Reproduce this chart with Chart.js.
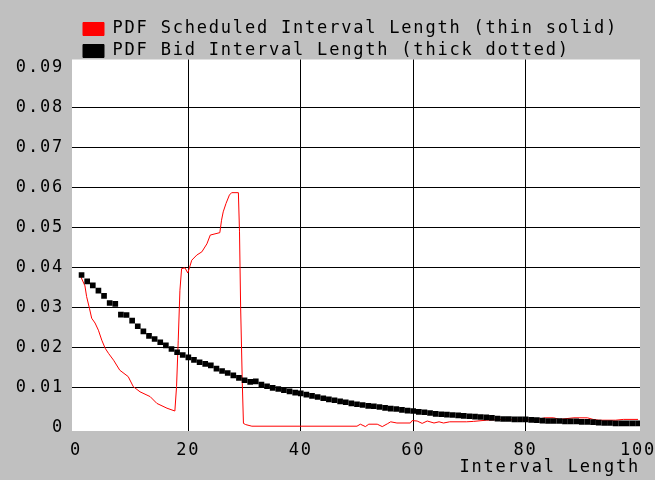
<!DOCTYPE html>
<html>
<head>
<meta charset="utf-8">
<script src="https://cdn.jsdelivr.net/npm/chart.js@4.4.1/dist/chart.umd.min.js"></script>
<style>
  html, body { margin:0; padding:0; background:#c0c0c0; }
</style>
</head>
<body>
<canvas id="pdf_chart" width="655" height="480"></canvas>
<script>
// scheduled interval length pdf (thin red line)
const schedX = [0.8, 1.6, 1.9, 2.4, 2.8, 3.4, 4.0, 4.6, 5.2, 5.8, 6.7, 7.8, 9.3, 10.2, 11.4, 13.2, 14.4, 16.2, 17.6,
  17.9, 18.2, 18.5, 18.8, 19.4, 19.9, 20.3, 20.6, 21.5, 22.4, 23.3, 23.9, 25.6, 25.9, 26.2, 26.7, 27.3,
  27.7, 28.9, 29.1, 29.3, 29.6, 29.8, 30.2, 31.3, 50, 50.6, 51.5, 52.1, 53.6, 54.5, 55.4, 56, 57.1,
  59.5, 59.8, 60.7, 61.6, 62.5, 63.7, 64.6, 65.4, 66.5, 69.5, 70.7, 73, 76, 79, 82, 83.5, 85, 86,
  88.6, 91, 92, 93, 96, 97.4, 100];
const schedY = [0.0380, 0.0355, 0.0328, 0.0299, 0.0274, 0.0262, 0.0244, 0.0219, 0.0199, 0.0186, 0.0169,
  0.0144, 0.0128, 0.0103, 0.0090, 0.0078, 0.0061, 0.0049, 0.0042,
  0.0103, 0.0219, 0.0344, 0.0398, 0.0400, 0.0387, 0.0405, 0.0419, 0.0432, 0.0440, 0.0460, 0.0482,
  0.0488, 0.0519, 0.0540, 0.0561, 0.0582,
  0.0588, 0.0588, 0.0490, 0.0302, 0.0110, 0.0011, 0.0008, 0.0004, 0.0004, 0.0009, 0.0003, 0.0009,
  0.0009, 0.0003, 0.0010, 0.0015, 0.0012,
  0.0012, 0.0018, 0.0017, 0.0011, 0.0017, 0.0012, 0.0015, 0.0012, 0.0015, 0.0015, 0.0016, 0.0019,
  0.0021, 0.0019, 0.0021, 0.0025, 0.0025, 0.0021,
  0.0025, 0.0025, 0.0021, 0.0019, 0.0019, 0.0021, 0.0021];

// bid interval length pdf (thick dotted black)
const bidX = [1, 2, 3, 4, 5, 6, 7, 8, 9, 10, 11, 12, 13, 14, 15, 16, 17, 18, 19, 20,
  21, 22, 23, 24, 25, 26, 27, 28, 29, 30, 31, 32, 33, 34, 35, 36, 37, 38, 39, 40,
  41, 42, 43, 44, 45, 46, 47, 48, 49, 50, 51, 52, 53, 54, 55, 56, 57, 58, 59, 60,
  61, 62, 63, 64, 65, 66, 67, 68, 69, 70, 71, 72, 73, 74, 75, 76, 77, 78, 79, 80,
  81, 82, 83, 84, 85, 86, 87, 88, 89, 90, 91, 92, 93, 94, 95, 96, 97, 98, 99, 100];
const bidY = [0.0382, 0.0366, 0.0356, 0.0343, 0.0330, 0.0312, 0.0310, 0.0283, 0.0282, 0.0268,
  0.0254, 0.0241, 0.0230, 0.0222, 0.0214, 0.0206, 0.0197, 0.0189, 0.0182, 0.0176,
  0.0170, 0.0164, 0.0160, 0.0156, 0.0148, 0.0142, 0.0137, 0.0131, 0.0125, 0.0119,
  0.0115, 0.0116, 0.0108, 0.0104, 0.0100, 0.0097, 0.0094, 0.0091, 0.0088, 0.0086,
  0.0083, 0.0080, 0.0077, 0.0074, 0.0071, 0.0069, 0.0066, 0.0064, 0.0061, 0.0059,
  0.0057, 0.0055, 0.0054, 0.0052, 0.0050, 0.0048, 0.0047, 0.0045, 0.0043, 0.0042,
  0.0040, 0.0039, 0.0037, 0.0035, 0.0034, 0.0033, 0.0032, 0.0031, 0.0030, 0.0029,
  0.0028, 0.0027, 0.0026, 0.0025, 0.0023, 0.0022, 0.0022, 0.0021, 0.0021, 0.0021,
  0.0020, 0.0019, 0.0018, 0.0017, 0.0017, 0.0017, 0.0016, 0.0016, 0.0016, 0.0015,
  0.0015, 0.0014, 0.0013, 0.0012, 0.0012, 0.0011, 0.0011, 0.0011, 0.0011, 0.0011];

const xTicks = [0, 20, 40, 60, 80, 100];
const yTicks = [0, 0.01, 0.02, 0.03, 0.04, 0.05, 0.06, 0.07, 0.08, 0.09];
const yTickLabels = ['0', '0.01', '0.02', '0.03', '0.04', '0.05', '0.06', '0.07', '0.08', '0.09'];

const LETTER_GAP = '1.8px';
const FONT = {family: '"DejaVu Sans Mono", monospace', size: 17};

const backdrop = {
  id: 'backdrop',
  beforeUpdate: (chart) => { chart.ctx.letterSpacing = LETTER_GAP; },
  afterLayout: (chart) => {
    // legend sits left, a bit lower than chart.js puts it
    chart.legend.left = 78;
    chart.legend.top += 10;
  },
  beforeDraw: (chart) => {
    const {ctx, chartArea: a} = chart;
    ctx.letterSpacing = LETTER_GAP;
    ctx.save();
    ctx.fillStyle = '#c0c0c0';
    ctx.fillRect(0, 0, chart.width, chart.height);
    ctx.fillStyle = '#ffffff';
    ctx.fillRect(a.left, a.top, a.right - a.left, a.bottom - a.top);
    ctx.restore();
  }
};

const gridColor = (hidden) => (c) => (c.tick && hidden.includes(c.tick.value)) ? 'rgba(0,0,0,0)' : '#000';

new Chart(document.getElementById('pdf_chart'), {
  type: 'line',
  data: {
    datasets: [
      {
        label: 'PDF Scheduled Interval Length (thin solid)',
        data: schedX.map((x, i) => ({x: x, y: schedY[i]})),
        borderColor: '#ff0000',
        backgroundColor: '#ff0000',
        borderWidth: 1,
        pointRadius: 0,
        tension: 0,
        order: 1,
      },
      {
        label: 'PDF Bid Interval Length (thick dotted)',
        data: bidX.map((x, i) => ({x: x, y: bidY[i]})),
        borderColor: '#000',
        backgroundColor: '#000',
        borderWidth: 1,
        showLine: false,
        pointStyle: 'rect',
        pointRadius: 4,
        pointBorderWidth: 0,
        pointBackgroundColor: '#000',
        order: 0,
      },
    ]
  },
  options: {
    responsive: false,
    animation: false,
    layout: {autoPadding: false, padding: {left: 0, right: 15, top: 5.5, bottom: 0}},
    plugins: {
      tooltip: {enabled: false},
      legend: {
        align: 'start',
        labels: {
          color: '#000',
          font: FONT,
          boxWidth: 21,
          boxHeight: 13,
          padding: 5,
          sort: (a, b) => a.datasetIndex - b.datasetIndex,
        }
      }
    },
    scales: {
      x: {
        type: 'linear',
        min: -0.7,
        max: 100.35,
        afterBuildTicks: (s) => { s.ticks = xTicks.map((v) => ({value: v})); },
        afterFit: (s) => { s.height = 49; s.paddingLeft = 0; s.paddingRight = 0; },
        grid: {color: gridColor([0, 100]), lineWidth: 1, drawTicks: false},
        border: {display: false},
        ticks: {color: '#000', font: FONT, padding: 9, autoSkip: false, maxRotation: 0},
        title: {display: true, text: 'Interval Length', align: 'end', color: '#000', font: FONT,
          padding: {top: 0, bottom: 2}},
      },
      y: {
        type: 'linear',
        min: -0.0008,
        max: 0.0921,
        afterBuildTicks: (s) => { s.ticks = yTicks.map((v) => ({value: v})); },
        afterFit: (s) => { s.width = 72; },
        grid: {color: gridColor([0, 0.09]), lineWidth: 1, drawTicks: false},
        border: {display: false},
        ticks: {
          color: '#000', font: FONT, padding: 8, autoSkip: false,
          callback: (v, i) => yTickLabels[i],
        },
      }
    }
  },
  plugins: [backdrop]
});
</script>
</body>
</html>
